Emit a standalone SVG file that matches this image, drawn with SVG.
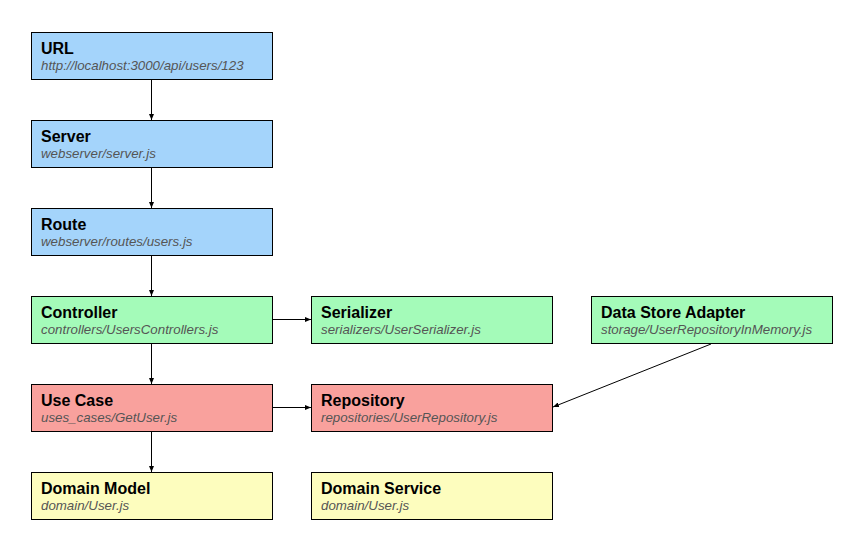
<svg xmlns="http://www.w3.org/2000/svg" width="865" height="551" viewBox="0 0 865 551">
  <style>
    .box { stroke: #000; stroke-width: 1; }
    .blue { fill: #a4d4fb; }
    .green { fill: #a4fbb9; }
    .red { fill: #f9a19d; }
    .yellow { fill: #fdfdbe; }
    .title { font-family: "Liberation Sans", Arial, sans-serif; font-size: 16px; font-weight: bold; fill: #000; }
    .sub { font-family: "Liberation Sans", Arial, sans-serif; font-size: 13.3px; font-style: italic; fill: #555; }
    .edge { stroke: #000; stroke-width: 1; fill: none; marker-end: url(#arrow); }
  </style>
  <defs>
    <marker id="arrow" markerWidth="6" markerHeight="5" refX="6" refY="2.5" orient="auto" markerUnits="userSpaceOnUse">
      <path d="M0,0 L6,2.5 L0,5 Z" fill="#000"/>
    </marker>
  </defs>
  <rect width="865" height="551" fill="#fff"/>

  <g id="connectors">
    <line class="edge" x1="151.5" y1="80" x2="151.5" y2="120"/>
    <line class="edge" x1="151.5" y1="168" x2="151.5" y2="208"/>
    <line class="edge" x1="151.5" y1="256" x2="151.5" y2="296"/>
    <line class="edge" x1="151.5" y1="344" x2="151.5" y2="384"/>
    <line class="edge" x1="151.5" y1="432" x2="151.5" y2="472"/>
    <line class="edge" x1="272" y1="319.5" x2="311" y2="319.5"/>
    <line class="edge" x1="272" y1="407.5" x2="311" y2="407.5"/>
    <line class="edge" x1="711" y1="344" x2="553" y2="407"/>
  </g>

  <g id="url">
    <rect class="box blue" x="31.5" y="32.5" width="241" height="47"/>
    <text class="title" x="41" y="54">URL</text>
    <text class="sub" x="41" y="70">http://localhost:3000/api/users/123</text>
  </g>
  <g id="server">
    <rect class="box blue" x="31.5" y="120.5" width="241" height="47"/>
    <text class="title" x="41" y="142">Server</text>
    <text class="sub" x="41" y="158">webserver/server.js</text>
  </g>
  <g id="route">
    <rect class="box blue" x="31.5" y="208.5" width="241" height="47"/>
    <text class="title" x="41" y="230">Route</text>
    <text class="sub" x="41" y="246">webserver/routes/users.js</text>
  </g>
  <g id="controller">
    <rect class="box green" x="31.5" y="296.5" width="241" height="47"/>
    <text class="title" x="41" y="318">Controller</text>
    <text class="sub" x="41" y="334">controllers/UsersControllers.js</text>
  </g>
  <g id="serializer">
    <rect class="box green" x="311.5" y="296.5" width="241" height="47"/>
    <text class="title" x="321" y="318">Serializer</text>
    <text class="sub" x="321" y="334">serializers/UserSerializer.js</text>
  </g>
  <g id="data-store-adapter">
    <rect class="box green" x="591.5" y="296.5" width="241" height="47"/>
    <text class="title" x="601" y="318">Data Store Adapter</text>
    <text class="sub" x="601" y="334">storage/UserRepositoryInMemory.js</text>
  </g>
  <g id="use-case">
    <rect class="box red" x="31.5" y="384.5" width="241" height="47"/>
    <text class="title" x="41" y="406">Use Case</text>
    <text class="sub" x="41" y="422">uses_cases/GetUser.js</text>
  </g>
  <g id="repository">
    <rect class="box red" x="311.5" y="384.5" width="241" height="47"/>
    <text class="title" x="321" y="406">Repository</text>
    <text class="sub" x="321" y="422">repositories/UserRepository.js</text>
  </g>
  <g id="domain-model">
    <rect class="box yellow" x="31.5" y="472.5" width="241" height="47"/>
    <text class="title" x="41" y="494">Domain Model</text>
    <text class="sub" x="41" y="510">domain/User.js</text>
  </g>
  <g id="domain-service">
    <rect class="box yellow" x="311.5" y="472.5" width="241" height="47"/>
    <text class="title" x="321" y="494">Domain Service</text>
    <text class="sub" x="321" y="510">domain/User.js</text>
  </g>
</svg>
